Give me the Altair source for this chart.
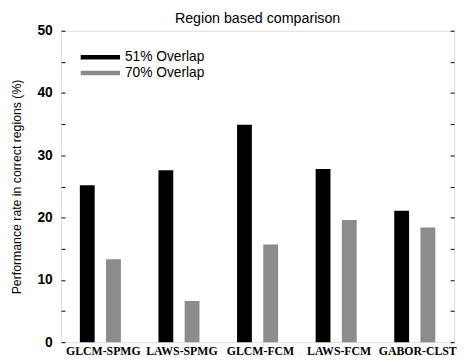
import altair as alt
import pandas as pd

categories = ["GLCM-SPMG", "LAWS-SPMG", "GLCM-FCM", "LAWS-FCM", "GABOR-CLST"]
overlap51 = [25.2, 27.6, 34.9, 27.8, 21.1]
overlap70 = [13.3, 6.6, 15.7, 19.6, 18.4]
series_names = ["51% Overlap", "70% Overlap"]
series_colors = ["#000000", "#8c8c8c"]
y_labels = [0, 10, 20, 30, 40, 50]
y_ticks = [0, 5, 10, 15, 20, 25, 30, 35, 40, 45, 50]

rows = []
for c, a, b in zip(categories, overlap51, overlap70):
    rows.append({"method": c, "series": series_names[0], "value": a})
    rows.append({"method": c, "series": series_names[1], "value": b})
df = pd.DataFrame(rows)

yscale = alt.Scale(domain=[0, 50], nice=False, zero=True)

bars = alt.Chart(df).mark_bar().encode(
    x=alt.X("method:N", sort=categories,
            scale=alt.Scale(paddingInner=0, paddingOuter=0),
            axis=alt.Axis(title=None, labelAngle=0, ticks=False, domain=False,
                          labelFont="Liberation Serif", labelFontWeight="bold",
                          labelFontSize=12, labelColor="#000", labelPadding=4,
                          labelOffset=3)),
    xOffset=alt.XOffset("series:N", sort=series_names,
                        scale=alt.Scale(paddingInner=0.434, paddingOuter=0.717)),
    y=alt.Y("value:Q", scale=yscale,
            axis=alt.Axis(orient="left", values=y_labels, ticks=False, domain=False,
                          grid=False, labelFont="Liberation Sans", labelFontWeight="bold",
                          labelFontSize=14, labelColor="#000", labelPadding=9,
                          title="Performance rate in correct regions (%)",
                          titleFont="Liberation Sans", titleFontWeight="normal",
                          titleFontSize=12.5, titleColor="#000", titlePadding=14)),
    fill=alt.Fill("series:N", sort=series_names,
                  scale=alt.Scale(domain=series_names, range=series_colors),
                  legend=alt.Legend(title=None, orient="none", legendX=33, legendY=20,
                                    symbolType="M-4,-0.44H4V0.44H-4Z", symbolSize=100,
                                    symbolStrokeWidth=0, labelFontSize=14,
                                    labelFont="Liberation Sans", labelColor="#000",
                                    labelOffset=18, rowPadding=2, padding=0)),
)

ticks_left = alt.Chart(df).mark_point(opacity=0).encode(
    y=alt.Y("value:Q", scale=yscale,
            axis=alt.Axis(orient="left", values=y_ticks, offset=-4, tickSize=4,
                          tickColor="#000", domain=False, labels=False, grid=False,
                          title=None))
)
ticks_right = alt.Chart(df).mark_point(opacity=0).encode(
    y=alt.Y("value:Q", scale=yscale,
            axis=alt.Axis(orient="right", values=y_ticks, offset=-4, tickSize=4,
                          tickColor="#000", domain=False, labels=False, grid=False,
                          title=None))
)

chart = alt.layer(bars, ticks_left, ticks_right).resolve_axis(y="independent").properties(
    width=400, height=317,
    title=alt.TitleParams("Region based comparison", font="Liberation Sans",
                          fontSize=14.5, fontWeight="normal", color="#000", offset=8, dy=11),
    autosize=alt.AutoSizeParams(type="none"),
    padding={"left": 54, "top": 20, "right": 4, "bottom": 16},
).configure_view(stroke="#000", strokeWidth=1).configure(background="white")

chart.save("out.html", embed_options={"renderer": "svg", "actions": False})
